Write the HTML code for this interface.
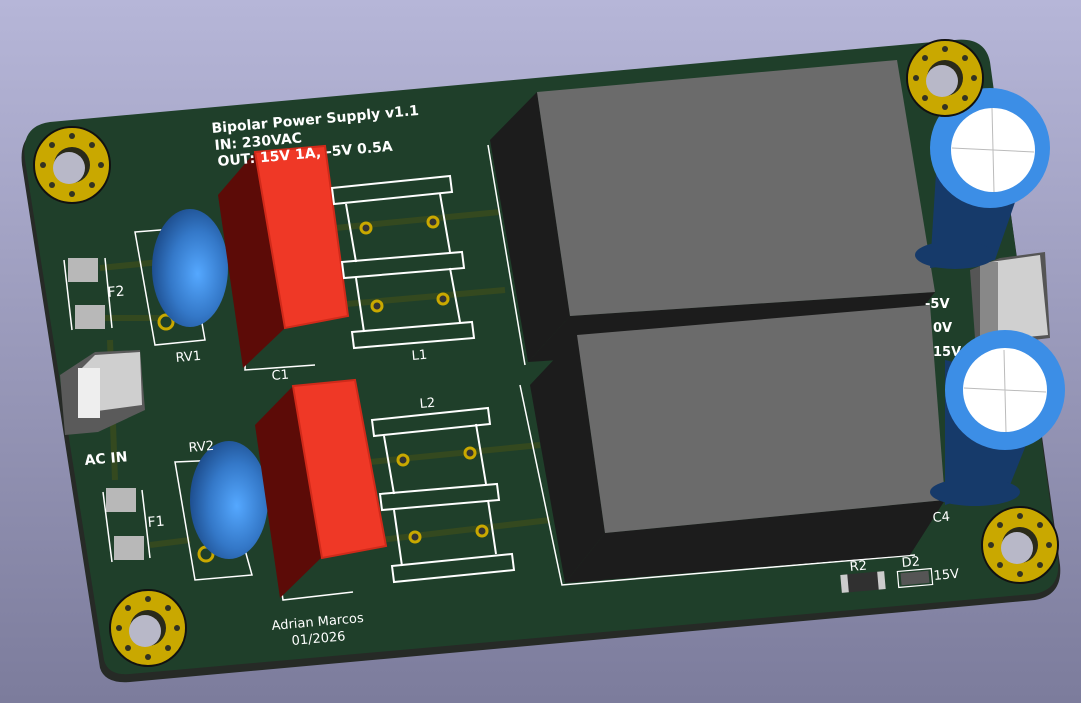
<!DOCTYPE html>
<html><head><meta charset="utf-8"><style>html,body{margin:0;padding:0;overflow:hidden}svg{display:block}text{font-family:"DejaVu Sans","Liberation Sans",sans-serif;fill:#fff}</style></head>
<body>
<svg width="1081" height="703" viewBox="0 0 1081 703" xmlns="http://www.w3.org/2000/svg">
<defs>
<linearGradient id="bg" x1="0" y1="0" x2="0" y2="1"><stop offset="0" stop-color="#b6b6d8"/><stop offset="1" stop-color="#7c7c9c"/></linearGradient>
<radialGradient id="tor" cx="0.6" cy="0.55" r="0.6"><stop offset="0" stop-color="#55a8ff"/><stop offset="0.6" stop-color="#3478c8"/><stop offset="1" stop-color="#1e4f90"/></radialGradient>
<g id="hole"><circle r="38" fill="#c9a800" stroke="#111" stroke-width="2"/><circle r="18" fill="#2a2a1a"/><circle cx="-3" cy="3" r="16" fill="#b8b8c8"/>
<g fill="#332" ><circle cx="0" cy="-29" r="3"/><circle cx="0" cy="29" r="3"/><circle cx="-29" cy="0" r="3"/><circle cx="29" cy="0" r="3"/><circle cx="20" cy="-20" r="3"/><circle cx="-20" cy="-20" r="3"/><circle cx="20" cy="20" r="3"/><circle cx="-20" cy="20" r="3"/></g></g>
</defs>
<rect width="1081" height="703" fill="url(#bg)"/>
<!-- board edge -->
<path d="M50 128 L955 43 Q985 40 990 65 L1060 565 Q1063 595 1035 600 L130 682 Q105 684 100 668 L22 165 Q18 130 50 128 Z" fill="#262a26"/>
<path d="M50 122 L955 40 Q985 37 990 62 L1058 560 Q1061 590 1033 594 L130 674 Q108 676 104 660 L25 160 Q20 126 50 122 Z" fill="#1f3f2a"/>
<!-- traces -->
<g stroke="#34491f" stroke-width="6" fill="none">
<path d="M100 268 L160 262"/><path d="M105 318 L160 318"/><path d="M335 228 L500 212"/><path d="M335 305 L505 290"/>
<path d="M370 462 L540 445"/><path d="M380 540 L550 520"/><path d="M110 340 L115 480"/><path d="M150 545 L190 540"/>
</g>
<!-- F2 F1 -->
<g><rect x="68" y="258" width="30" height="24" fill="#b8b8b8"/><rect x="75" y="305" width="30" height="24" fill="#b8b8b8"/>
<path d="M64 260 L72 330 M105 258 L112 328" stroke="#fff" stroke-width="1.5"/>
<rect x="106" y="488" width="30" height="24" fill="#b8b8b8"/><rect x="114" y="536" width="30" height="24" fill="#b8b8b8"/>
<path d="M103 492 L112 562 M142 490 L150 558" stroke="#fff" stroke-width="1.5"/></g>
<text x="108" y="297" font-size="14" transform="rotate(-5 108 297)">F2</text>
<text x="148" y="527" font-size="14" transform="rotate(-5 148 527)">F1</text>
<!-- AC IN terminal -->
<polygon points="60,375 95,352 140,350 145,410 98,432 65,435" fill="#5a5a5a"/>
<polygon points="80,370 95,355 140,352 142,405 90,412" fill="#cfcfcf"/>
<rect x="78" y="368" width="22" height="50" fill="#eee"/>
<text x="85" y="465" font-size="14" font-weight="bold" transform="rotate(-5 85 465)">AC IN</text>
<!-- RV outlines -->
<path d="M135 232 L185 228 L205 340 L155 345 Z" fill="none" stroke="#fff" stroke-width="1.5"/>
<path d="M175 462 L220 460 L252 575 L195 580 Z" fill="none" stroke="#fff" stroke-width="1.5"/>
<circle cx="166" cy="322" r="7" fill="none" stroke="#c9a800" stroke-width="3"/>
<circle cx="206" cy="554" r="7" fill="none" stroke="#c9a800" stroke-width="3"/>
<ellipse cx="190" cy="268" rx="38" ry="59" fill="url(#tor)"/>
<ellipse cx="229" cy="500" rx="39" ry="59" fill="url(#tor)"/>
<text x="176" y="362" font-size="13" transform="rotate(-5 176 362)">RV1</text>
<text x="189" y="452" font-size="13" transform="rotate(-5 189 452)">RV2</text>
<!-- C1 / C2 outlines -->
<path d="M250 195 L245 370 L315 365" fill="none" stroke="#fff" stroke-width="1.5"/>
<path d="M258 425 L283 600 L353 592" fill="none" stroke="#fff" stroke-width="1.5"/>
<!-- C1 -->
<polygon points="218,195 255,152 285,328 243,368" fill="#5c0b07"/>
<polygon points="255,152 325,146 348,316 285,328" fill="#ef3826" stroke="#d02a1a" stroke-width="2"/>
<!-- C2 -->
<polygon points="255,425 293,386 322,557 280,598" fill="#5c0b07"/>
<polygon points="293,386 355,380 386,546 322,558" fill="#ef3826" stroke="#d02a1a" stroke-width="2"/>
<text x="272" y="380" font-size="13" transform="rotate(-5 272 380)">C1</text>
<!-- L1 -->
<g fill="none" stroke="#fff" stroke-width="2">
<polygon points="332,188 450,176 452,192 334,204"/><polygon points="342,262 462,252 464,268 344,278"/><polygon points="352,332 472,322 474,338 354,348"/>
<path d="M346 204 L356 262 M440 194 L450 252 M356 278 L364 332 M450 268 L460 322"/>
<polygon points="372,420 488,408 490,424 374,436"/><polygon points="380,494 497,484 499,500 382,510"/><polygon points="392,566 512,554 514,570 394,582"/>
<path d="M384 436 L394 494 M476 424 L486 484 M394 510 L402 566 M488 500 L496 554"/>
</g>
<g fill="#333" stroke="#c9a800" stroke-width="3">
<circle cx="366" cy="228" r="5"/><circle cx="433" cy="222" r="5"/><circle cx="377" cy="306" r="5"/><circle cx="443" cy="299" r="5"/>
<circle cx="403" cy="460" r="5"/><circle cx="470" cy="453" r="5"/><circle cx="415" cy="537" r="5"/><circle cx="482" cy="531" r="5"/>
</g>
<text x="412" y="360" font-size="13" transform="rotate(-5 412 360)">L1</text>
<text x="420" y="408" font-size="13" transform="rotate(-5 420 408)">L2</text>
<!-- Text -->
<g font-size="14" font-weight="bold">
<text x="212" y="133" transform="rotate(-5 212 133)">Bipolar Power Supply v1.1</text>
<text x="215" y="150" transform="rotate(-5 215 150)">IN: 230VAC</text>
<text x="218" y="166" transform="rotate(-5 218 166)">OUT: 15V 1A, -5V 0.5A</text>
</g>
<text x="272" y="630" font-size="13" transform="rotate(-5 272 630)">Adrian Marcos</text>
<text x="292" y="645" font-size="13" transform="rotate(-5 292 645)">01/2026</text>
<!-- transformer outlines -->
<path d="M488 145 L525 365 M520 385 L562 585 L915 555" stroke="#fff" stroke-width="1.5" fill="none"/>
<!-- transformers -->
<polygon points="490,140 537,92 570,316 528,362" fill="#1c1c1c"/>
<polygon points="528,362 570,316 935,292 900,338" fill="#1c1c1c"/>
<polygon points="537,92 897,60 935,292 570,316" fill="#6b6b6b"/>
<polygon points="530,385 577,335 605,533 565,583" fill="#1c1c1c"/>
<polygon points="565,583 605,533 945,500 910,555" fill="#1c1c1c"/>
<polygon points="577,335 930,305 945,500 605,533" fill="#6b6b6b"/>
<!-- output terminal -->
<polygon points="970,270 1000,258 1045,252 1050,338 990,345 975,338" fill="#555"/>
<polygon points="990,262 1040,255 1048,335 995,340" fill="#d0d0d0"/>
<rect x="980" y="262" width="18" height="80" fill="#888"/>
<g font-size="13" font-weight="bold"><text x="925" y="308">-5V</text><text x="933" y="332">0V</text><text x="933" y="356">15V</text></g>
<!-- electrolytic caps -->
<polygon points="940,110 1040,130 995,260 930,268" fill="#163a6a"/>
<ellipse cx="955" cy="255" rx="40" ry="14" fill="#163a6a"/>
<circle cx="990" cy="148" r="60" fill="#3c8ee6"/><circle cx="993" cy="150" r="42" fill="#fff"/>
<path d="M952 148 L1034 152 M992 108 L994 192" stroke="#bbb" stroke-width="1"/>
<polygon points="945,360 1050,385 1010,485 945,505" fill="#163a6a"/>
<ellipse cx="975" cy="492" rx="45" ry="14" fill="#163a6a"/>
<circle cx="1005" cy="390" r="60" fill="#3c8ee6"/><circle cx="1005" cy="390" r="42" fill="#fff"/>
<path d="M964 388 L1046 392 M1004 350 L1006 432" stroke="#bbb" stroke-width="1"/>
<text x="933" y="522" font-size="13" transform="rotate(-5 933 522)">C4</text>
<!-- R2 D2 -->
<rect x="841" y="573" width="44" height="18" rx="2" fill="#303030" transform="rotate(-5 863 582)"/>
<rect x="841" y="573" width="7" height="18" fill="#ccc" transform="rotate(-5 863 582)"/>
<rect x="878" y="573" width="7" height="18" fill="#ccc" transform="rotate(-5 863 582)"/>
<text x="850" y="571" font-size="13" transform="rotate(-5 850 571)">R2</text>
<rect x="898" y="570" width="34" height="16" fill="none" stroke="#fff" stroke-width="1.2" transform="rotate(-5 915 578)"/>
<rect x="901" y="572" width="28" height="12" fill="#555" transform="rotate(-5 915 578)"/>
<text x="902" y="567" font-size="13" transform="rotate(-5 902 567)">D2</text>
<text x="934" y="580" font-size="13" transform="rotate(-5 934 580)">15V</text>
<!-- mounting holes -->
<use href="#hole" x="72" y="165"/><use href="#hole" x="945" y="78"/><use href="#hole" x="1020" y="545"/><use href="#hole" x="148" y="628"/>
</svg>
</body></html>
